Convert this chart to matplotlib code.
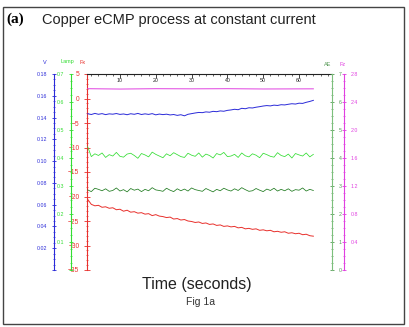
import numpy as np
import matplotlib
matplotlib.use("Agg")
import matplotlib.pyplot as plt
from matplotlib.patches import Rectangle
from matplotlib.ticker import MultipleLocator
from matplotlib.font_manager import FontProperties

# sample times (seconds)
time_s = list(range(1, 65))

# Fx (red, main left axis)
fx = [-20.6, -21.6, -21.9, -21.8, -22.2, -22.1, -22.4, -22.3,
      -22.7, -22.6, -23.0, -22.8, -23.2, -23.1, -23.4, -23.3,
      -23.6, -23.5, -23.9, -23.7, -24.0, -24.1, -24.3, -24.2,
      -24.6, -24.5, -24.8, -24.7, -25.0, -25.1, -25.3, -25.2,
      -25.5, -25.4, -25.7, -25.6, -25.9, -25.8, -26.1, -26.0,
      -26.2, -26.1, -26.4, -26.3, -26.6, -26.5, -26.7, -26.6,
      -26.9, -26.8, -27.0, -26.9, -27.2, -27.1, -27.3, -27.2,
      -27.5, -27.4, -27.6, -27.5, -27.8, -27.7, -28.0, -28.1]

# V (blue)
volt = [0.1435, 0.1428, 0.1438, 0.1430, 0.1436, 0.1427, 0.1434, 0.1431,
        0.1437, 0.1429, 0.1433, 0.1426, 0.1435, 0.1430, 0.1438, 0.1428,
        0.1434, 0.1429, 0.1436, 0.1425, 0.1432, 0.1427, 0.1431, 0.1424,
        0.1428, 0.1420, 0.1426, 0.1416, 0.1430, 0.1436, 0.1442, 0.1447,
        0.1445, 0.1452, 0.1449, 0.1457, 0.1454, 0.1461, 0.1458, 0.1466,
        0.1470, 0.1476, 0.1472, 0.1485, 0.1481, 0.1490, 0.1488, 0.1495,
        0.1500, 0.1506, 0.1510, 0.1507, 0.1514, 0.1511, 0.1518, 0.1516,
        0.1522, 0.1527, 0.1524, 0.1532, 0.1530, 0.1540, 0.1548, 0.1558]

# Lamp (light green)
lamp = [0.440, 0.405, 0.415, 0.409, 0.418, 0.402, 0.412, 0.407,
        0.420, 0.406, 0.403, 0.414, 0.417, 0.409, 0.399, 0.416,
        0.411, 0.404, 0.421, 0.413, 0.407, 0.401, 0.415, 0.408,
        0.419, 0.412, 0.405, 0.402, 0.417, 0.410, 0.406, 0.418,
        0.403, 0.414, 0.409, 0.400, 0.416, 0.411, 0.420, 0.405,
        0.407, 0.413, 0.402, 0.418, 0.408, 0.404, 0.415, 0.410,
        0.401, 0.417, 0.412, 0.406, 0.403, 0.419, 0.409, 0.405,
        0.414, 0.400, 0.416, 0.411, 0.407, 0.418, 0.404, 0.413]

# AE (dark green)
ae = [2.86, 2.80, 2.92, 2.88, 2.83, 2.90, 2.81, 2.84,
      2.93, 2.82, 2.87, 2.79, 2.91, 2.85, 2.89, 2.80,
      2.88, 2.83, 2.94, 2.86, 2.84, 2.81, 2.92, 2.85,
      2.80, 2.90, 2.83, 2.89, 2.82, 2.93, 2.87, 2.84,
      2.81, 2.91, 2.85, 2.79, 2.88, 2.83, 2.92, 2.86,
      2.82, 2.90, 2.84, 2.94, 2.87, 2.81, 2.83, 2.91,
      2.85, 2.80, 2.89, 2.84, 2.92, 2.82, 2.88, 2.83,
      2.90, 2.81, 2.87, 2.85, 2.93, 2.82, 2.88, 2.84]

# Fz (magenta)
fz_time = [1, 10, 20, 30, 40, 50, 64]
fz = [2.590, 2.585, 2.590, 2.588, 2.590, 2.586, 2.588]

W, H = 409, 327
plt.rcParams['font.family'] = ['Liberation Sans', 'DejaVu Sans']
fig = plt.figure(figsize=(W / 100, H / 100), dpi=100)


def fx_(px):
    return px / W


def fy_(py):
    return 1 - py / H


left, right, top, bottom = 87, 332, 74, 270
ax = fig.add_axes([fx_(left), fy_(bottom), (right - left) / W, (bottom - top) / H])
axw = right - left

RED = '#e8302c'
BLUE = '#2a2ad8'
LGREEN = '#33dd33'
DGREEN = '#1f7a1f'
AEGREEN = '#7cbf7c'
MAG = '#e040e0'
TS = 3.8

# main axis: Fx
ax.plot(time_s, fx, color=RED, lw=0.7)
ax.set_xlim(0.8, 69.2)
ax.set_ylim(-35, 5)
ax.yaxis.set_major_locator(MultipleLocator(5))
ax.yaxis.set_minor_locator(MultipleLocator(1))
ax.xaxis.set_major_locator(MultipleLocator(10))
ax.xaxis.set_minor_locator(MultipleLocator(2))
ax.xaxis.tick_top()
ax.tick_params(axis='x', which='both', direction='in', colors='#222222', labelsize=TS, pad=-6.5)
ax.tick_params(axis='x', which='major', length=3, width=0.6)
ax.tick_params(axis='x', which='minor', length=1.5, width=0.5)
ax.tick_params(axis='y', which='both', colors=RED, labelsize=TS + 1, direction='inout')
ax.tick_params(axis='y', which='major', length=4, width=0.6)
ax.tick_params(axis='y', which='minor', length=2, width=0.5)
ax.spines['left'].set_color(RED)
ax.spines['top'].set_color('#222222')
ax.spines['top'].set_linewidth(0.8)
ax.spines['bottom'].set_visible(False)
ax.spines['right'].set_visible(False)


def side_axis(pos, side, color, ylim, major, minor, tickcolor=None):
    a = ax.twinx()
    for s in a.spines.values():
        s.set_visible(False)
    a.spines[side].set_visible(True)
    a.spines[side].set_position(('axes', pos))
    a.spines[side].set_color(color)
    a.spines[side].set_linewidth(0.8)
    if side == 'left':
        a.yaxis.tick_left()
    else:
        a.yaxis.tick_right()
    a.set_ylim(*ylim)
    a.yaxis.set_major_locator(MultipleLocator(major))
    a.yaxis.set_minor_locator(MultipleLocator(minor))
    a.tick_params(axis='y', which='both', colors=tickcolor or color, labelsize=TS, direction='inout')
    a.tick_params(axis='y', which='major', length=3, width=0.6)
    a.tick_params(axis='y', which='minor', length=1.5, width=0.5)
    return a


ax_v = side_axis(-33 / axw, 'left', BLUE, (0, 0.18), 0.02, 0.005)
ax_v.yaxis.set_major_formatter(plt.FuncFormatter(lambda v, p: '' if v < 0.01 else f'{v:.2f}'))
ax_v.plot(time_s, volt, color=BLUE, lw=0.7)

ax_l = side_axis(-16 / axw, 'left', LGREEN, (0, 0.7), 0.1, 0.025)
ax_l.yaxis.set_major_formatter(plt.FuncFormatter(lambda v, p: '' if v < 0.05 else f'{v:.1f}'))
ax_l.plot(time_s, lamp, color=LGREEN, lw=0.55)

ax_ae = side_axis(1.0, 'right', AEGREEN, (0, 7), 1, 0.25, tickcolor='#559955')
ax_ae.plot(time_s, ae, color=DGREEN, lw=0.55)

ax_fz = side_axis(1 + 12 / axw, 'right', MAG, (0, 2.8), 0.4, 0.1)
ax_fz.yaxis.set_major_formatter(plt.FuncFormatter(lambda v, p: '' if v < 0.1 else f'{v:.1f}'))
ax_fz.plot(fz_time, fz, color=MAG, lw=0.7)

# axis headers
fig.text(fx_(45), fy_(62), 'V', color=BLUE, fontsize=4, ha='center', va='center')
fig.text(fx_(67), fy_(62), 'Lamp', color=LGREEN, fontsize=4, ha='center', va='center')
fig.text(fx_(83), fy_(62), 'Fx', color=RED, fontsize=4, ha='center', va='center')
fig.text(fx_(328), fy_(64), 'AE', color='#559955', fontsize=4, ha='center', va='center')
fig.text(fx_(343), fy_(64), 'Fz', color=MAG, fontsize=4, ha='center', va='center')

# titles
serif_bold = FontProperties(family='Liberation Serif', weight='bold', size=11)
fig.text(fx_(6), fy_(19), '(a)', fontproperties=serif_bold, ha='left', va='center')
fig.text(fx_(42), fy_(20), 'Copper eCMP process at constant current', fontsize=10.5,
         color='#222222', ha='left', va='center')
fig.text(fx_(197), fy_(285), 'Time (seconds)', fontsize=11.5, color='#222222',
         ha='center', va='center')
fig.text(fx_(200), fy_(302), 'Fig 1a', fontsize=7.5, color='#333333',
         ha='center', va='center')

# outer frame
fig.patches.append(Rectangle((fx_(3), fy_(324)), (404 - 3) / W, (324 - 7) / H,
                             transform=fig.transFigure, fill=False,
                             edgecolor='#444444', lw=1.0))

fig.savefig('out.png', dpi=100)
